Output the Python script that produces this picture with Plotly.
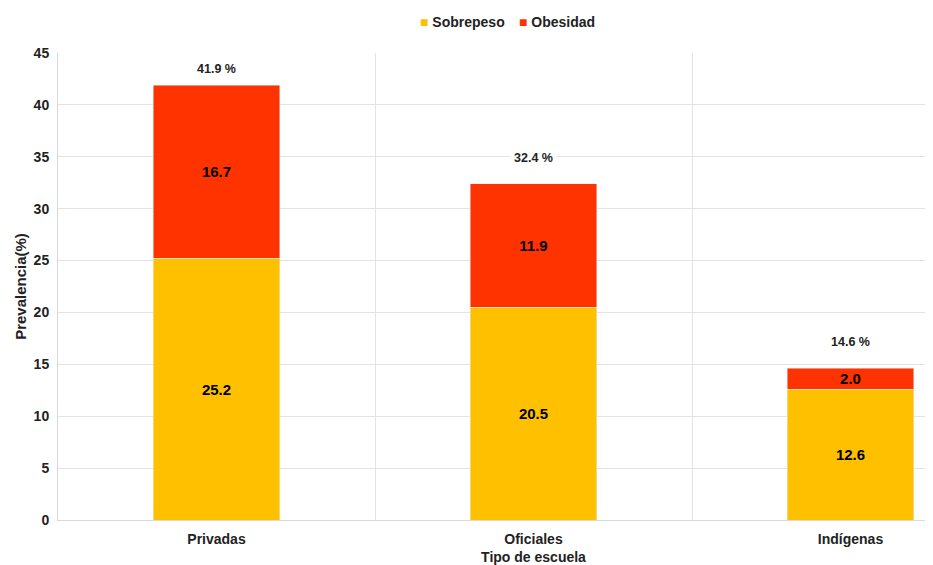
import plotly.graph_objects as go

categories = ["Privadas", "Oficiales", "Indígenas"]
sobrepeso = [25.2, 20.5, 12.6]
obesidad = [16.7, 11.9, 2.0]
totales = [41.9, 32.4, 14.6]
series_names = ["Sobrepeso", "Obesidad"]

font_family = "Liberation Sans, Arial, sans-serif"
YELLOW = "#FFC000"
RED = "#FF3300"
series_colors = [YELLOW, RED]

W, H = 1001, 557
ML, MR, MT, MB = 50, 0, 45, 45
YMAX = 45
px_per_unit = (H - MT - MB) / YMAX

fig = go.Figure()
for name, vals, col in zip(series_names, [sobrepeso, obesidad], series_colors):
    fig.add_trace(go.Bar(
        name=name, x=categories, y=vals, marker_color=col, showlegend=False,
        text=[f"{v:.1f}" for v in vals], textposition="inside", insidetextanchor="middle",
        constraintext="none",
        textfont=dict(color="black", size=15, family=font_family, weight="bold"),
    ))

# compact legend (square glyph + label), placed above the plot
legend_x = [(418 - 8 - ML) / (W - ML - MR), (517 - 8 - ML) / (W - ML - MR)]
legend_y = (H - MB - 14) / (H - MT - MB)
for name, col, lx in zip(series_names, series_colors, legend_x):
    fig.add_annotation(xref="paper", yref="paper", x=lx, y=legend_y, xanchor="left",
                       yanchor="middle", showarrow=False,
                       text=f"<span style='color:{col}'>■</span> {name}",
                       font=dict(size=14, color="#222", family=font_family, weight="bold"))

for c, t in zip(categories, totales):
    shift = min(26, (YMAX - t) * px_per_unit - 16)
    fig.add_annotation(x=c, y=t, text=f"{t:.1f} %", showarrow=False, yshift=shift,
                       bgcolor="white", borderpad=3,
                       font=dict(size=12.5, color="#222", family=font_family, weight="bold"))

fig.update_layout(
    barmode="stack", bargap=0.6,
    width=W, height=H,
    margin=dict(l=ML, r=MR, t=MT, b=MB),
    plot_bgcolor="white", paper_bgcolor="white",
    font=dict(family=font_family, size=14, color="#222"),
    showlegend=False,
)
fig.update_xaxes(
    tickson="boundaries", showgrid=True, gridcolor="#E3E3E3",
    ticks="", ticklabelstandoff=6,
    showline=True, linecolor="#D9D9D9",
    tickfont=dict(size=14, weight="bold"),
    title=dict(text="Tipo de escuela", font=dict(size=14, weight="bold"), standoff=6),
    automargin=False,
)
fig.update_yaxes(
    range=[0, YMAX], dtick=5, showgrid=True, gridcolor="#E3E3E3",
    showline=True, linecolor="#D9D9D9", zeroline=False,
    tickfont=dict(size=14, weight="bold"),
    ticks="outside", ticklen=5, tickcolor="rgba(0,0,0,0)",
    title=dict(text="Prevalencia(%)", font=dict(size=15, weight="bold"), standoff=3),
    automargin=False,
)

fig.write_html("out.html")
